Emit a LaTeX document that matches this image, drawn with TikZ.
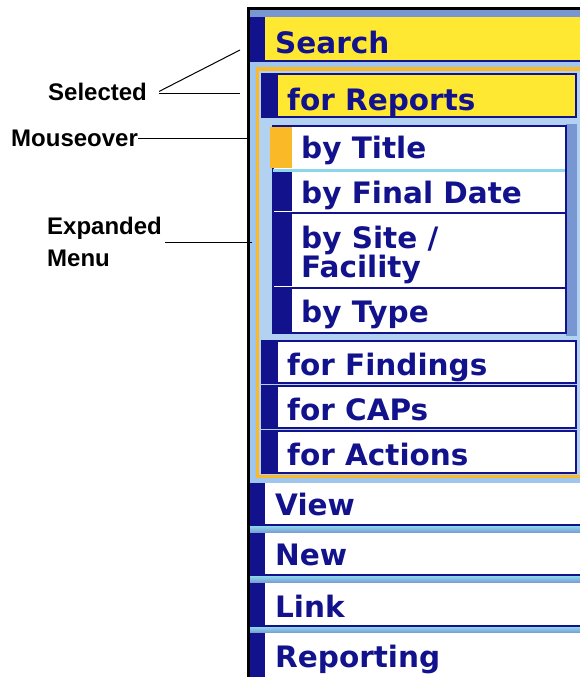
\documentclass[tikz,border=0pt]{standalone}
\usepackage{fontspec}
\setmainfont{Liberation Sans}
\newfontfamily\menufont{DejaVu Sans}

\definecolor{menunavy}{RGB}{18,18,140}
\definecolor{menuyellow}{RGB}{255,232,50}
\definecolor{menuorange}{RGB}{250,186,40}
\definecolor{paneblue}{RGB}{160,198,238}
\definecolor{stripblue}{RGB}{120,150,210}
\definecolor{cyanline}{RGB}{140,215,235}

\tikzset{
  menuitem/.style={anchor=base west, inner sep=0pt, text=menunavy,
    font=\menufont\bfseries\fontsize{29.5}{30}\selectfont},
  callout/.style={inner sep=0pt, font=\bfseries\fontsize{24}{31.5}\selectfont},
  box/.style={fill=white, draw=menunavy, line width=2pt},
  navyline/.style={draw=menunavy, line width=2pt},
  band/.style={top color=cyanline, bottom color=stripblue},
}

\begin{document}
\begin{tikzpicture}[x=1pt,y=-1pt]
\useasboundingbox[fill=white] (0,0) rectangle (580,677);

% frame of the menu
\fill[paneblue] (249,9) rectangle (580,677);
\fill[stripblue] (249,9) rectangle (580,17);
\draw[line width=2.5pt] (248.5,677) -- (248.5,8.5) -- (580,8.5);

% selected top item
\fill[menuyellow] (265,17) rectangle (580,60);
\fill[menunavy] (250,17) rectangle (265,61);
\draw[navyline] (250,61) -- (580,61);
\node[menuitem] (search) at (275,54) {Search};

% expanded menu
\draw[menuorange, line width=3.5pt, fill=paneblue!80!white] (257.5,69) rectangle (583,476.5);
\draw[box, fill=menuyellow] (262,74) rectangle (576,117);
\fill[menunavy] (262,74) rectangle (278,117);
\node[menuitem] (reports) at (287,110) {for Reports};

% third level, mouseover on the first row
\fill[stripblue] (566,124) rectangle (577,336);
\draw[box] (273,126) rectangle (566,333);
\fill[menuorange] (270,127) rectangle (292,168);
\draw[cyanline, line width=3pt] (273,170) -- (565,170);
\fill[menunavy] (273,172) rectangle (292,211);
\draw[navyline] (273,212.5) -- (566,212.5);
\fill[menunavy] (273,214) rectangle (292,286);
\draw[navyline] (273,287.5) -- (566,287.5);
\fill[menunavy] (273,289) rectangle (292,332.5);
\node[menuitem] (title) at (301,158) {by Title};
\node[menuitem] (finaldate) at (301,203) {by Final Date};
\node[menuitem] (site) at (301,248) {by Site /};
\node[menuitem] (facility) at (301,277) {Facility};
\node[menuitem] (type) at (301,322) {by Type};

\draw[box] (262,341) rectangle (576,383);
\fill[menunavy] (262,341) rectangle (278,383);
\draw[box] (262,386) rectangle (576,428);
\fill[menunavy] (262,386) rectangle (278,428);
\draw[box] (262,431) rectangle (576,473);
\fill[menunavy] (262,431) rectangle (278,473);
\node[menuitem] (findings) at (287,375) {for Findings};
\node[menuitem] (caps) at (287,420) {for CAPs};
\node[menuitem] (actions) at (287,465) {for Actions};

% other top items
\fill[white] (265,483) rectangle (580,524);
\fill[menunavy] (250,483) rectangle (265,524);
\draw[navyline] (250,525) -- (580,525);
\shade[band] (250,526) rectangle (580,533);
\fill[white] (265,533) rectangle (580,574);
\fill[menunavy] (250,533) rectangle (265,574);
\draw[navyline] (250,575) -- (580,575);
\shade[band] (250,576) rectangle (580,583);
\fill[white] (265,583) rectangle (580,625);
\fill[menunavy] (250,583) rectangle (265,625);
\draw[navyline] (250,626) -- (580,626);
\shade[band] (250,627) rectangle (580,633);
\fill[white] (265,633) rectangle (580,677);
\fill[menunavy] (250,633) rectangle (265,677);
\node[menuitem] (view) at (275,515) {View};
\node[menuitem] (new) at (275,565) {New};
\node[menuitem] (link) at (275,617) {Link};
\node[menuitem] (reporting) at (275,667) {Reporting};

% callouts
\node[callout, anchor=base west] (selected) at (48,100) {Selected};
\node[callout, anchor=base west] (mouseover) at (11,146.5) {Mouseover};
\node[callout, anchor=west, align=left] (expanded) at (47,242) {Expanded\\Menu};
\coordinate (selTop) at (240,50);
\coordinate (selBar) at (240,93.5);
\coordinate (hover) at (247,138);
\coordinate (expand) at (252,242);
\draw[line width=1pt] ([xshift=12pt]selected.east) -- (selTop);
\draw[line width=1pt] ([xshift=12pt]selected.east |- selBar) -- (selBar);
\draw[line width=1pt] (mouseover.east) -- (mouseover.east -| hover);
\draw[line width=1pt] ([xshift=3pt]expanded.east |- expand) -- (expand);
\end{tikzpicture}
\end{document}
